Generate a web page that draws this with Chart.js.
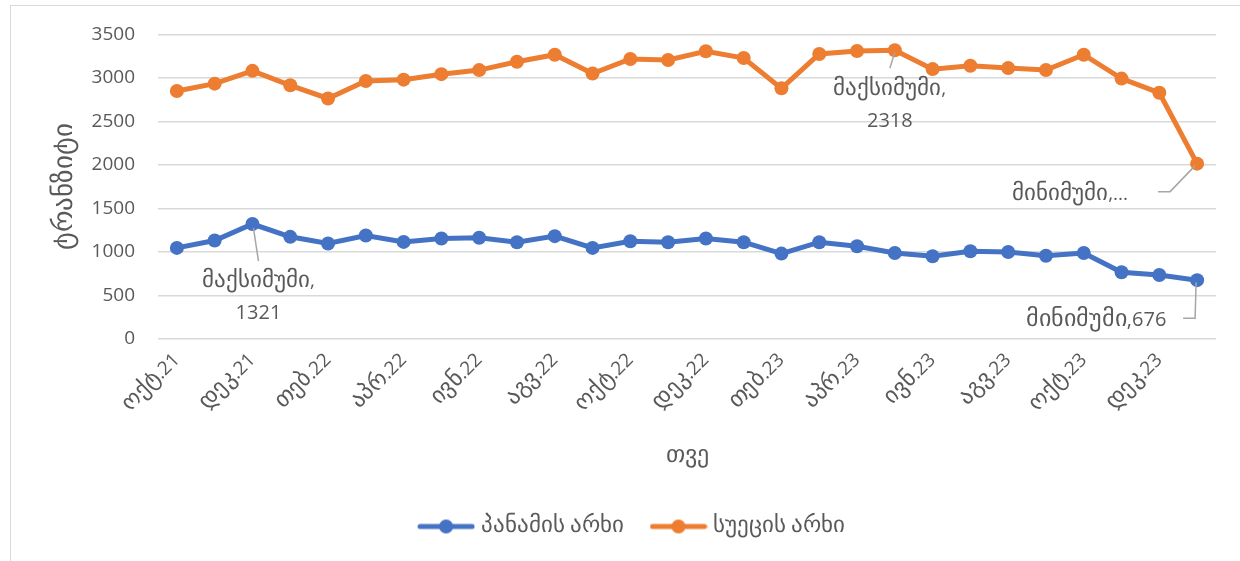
<!DOCTYPE html>
<html>
<head>
<meta charset="utf-8">
<script src="https://cdn.jsdelivr.net/npm/chart.js@4.4.1/dist/chart.umd.min.js"></script>
<style>
  /* Georgian glyphs a bit larger than the Latin digits, like in the original */
  @font-face {
    font-family: 'GeoText';
    src: local('DejaVu Sans');
    unicode-range: U+10A0-10FF, U+1C90-1CBF, U+2D00-2D2F;
    size-adjust: 122%;
  }
  html, body { margin: 0; padding: 0; background: #fff; overflow: hidden; }
  #wrap { position: relative; width: 1240px; height: 561px; }
  #frame { position: absolute; left: 10px; top: 5px; width: 1260px; height: 600px; border: 1px solid #d9d9d9; box-sizing: border-box; }
  canvas { position: absolute; left: 0; top: 0; }
</style>
</head>
<body>
<div id="wrap">
  <div id="frame"></div>
  <canvas id="transitChart" width="1240" height="561"></canvas>
</div>
<script>
const months = [
  'ოქტ.21', 'ნოე.21', 'დეკ.21', 'იან.22', 'თებ.22', 'მარ.22', 'აპრ.22', 'მაი.22',
  'ივნ.22', 'ივლ.22', 'აგვ.22', 'სექ.22', 'ოქტ.22', 'ნოე.22', 'დეკ.22', 'იან.23',
  'თებ.23', 'მარ.23', 'აპრ.23', 'მაი.23', 'ივნ.23', 'ივლ.23', 'აგვ.23', 'სექ.23',
  'ოქტ.23', 'ნოე.23', 'დეკ.23', 'იან.24'
];
const panamaCanal = [
  1047, 1132, 1321, 1174, 1097, 1190, 1116, 1155, 1163, 1112, 1182, 1047, 1124, 1112,
  1155, 1112, 981, 1112, 1066, 988, 950, 1008, 1000, 957, 988, 767, 736, 676
];
const suezCanal = [
  2849, 2934, 3081, 2915, 2764, 2965, 2980, 3043, 3090, 3186, 3267, 3050, 3217, 3206,
  3306, 3229, 2880, 3275, 3310, 3318, 3101, 3140, 3113, 3090, 3267, 2992, 2829, 2015
];
const seriesNames = ['პანამის არხი', 'სუეცის არხი'];
const yTicks = [0, 500, 1000, 1500, 2000, 2500, 3000, 3500];
// data label texts as they appear on the chart
const maxLabels = [['მაქსიმუმი,', '1321'], ['მაქსიმუმი,', '2318']];
const minLabels = ['მინიმუმი,676', 'მინიმუმი,...'];

const textColor = '#595959';
const fontFamily = 'GeoText, "Open Sans", "DejaVu Sans", sans-serif';
const blue = '#4472C4';
const orange = '#ED7D31';

// legend marker: short line with a dot in the middle
function legendMarker(color) {
  const c = document.createElement('canvas');
  c.width = 58; c.height = 16;
  const g = c.getContext('2d');
  g.strokeStyle = color; g.lineWidth = 5; g.lineCap = 'round';
  g.beginPath(); g.moveTo(3, 8); g.lineTo(55, 8); g.stroke();
  g.fillStyle = color;
  g.beginPath(); g.arc(29, 8, 7, 0, Math.PI * 2); g.fill();
  return c;
}

const argMax = arr => arr.indexOf(Math.max(...arr));
const argMin = arr => arr.indexOf(Math.min(...arr));

const extremeLabels = {
  id: 'extremeLabels',
  afterDatasetsDraw(chart) {
    const ctx = chart.ctx;
    const pt = (ds, i) => chart.getDatasetMeta(ds).data[i];
    ctx.save();
    ctx.font = '19px ' + fontFamily;
    ctx.fillStyle = textColor;
    ctx.strokeStyle = '#a6a6a6';
    ctx.lineWidth = 1.5;
    ctx.textAlign = 'center';
    ctx.textBaseline = 'middle';

    const line = pts => {
      ctx.beginPath();
      ctx.moveTo(pts[0][0], pts[0][1]);
      pts.slice(1).forEach(p => ctx.lineTo(p[0], p[1]));
      ctx.stroke();
    };

    // maximum, Panama
    let p = pt(0, argMax(panamaCanal));
    line([[p.x + 1, p.y + 4], [p.x + 6, p.y + 37]]);
    ctx.fillText(maxLabels[0][0], p.x + 6, p.y + 58);
    ctx.font = '20px ' + fontFamily;
    ctx.fillText(maxLabels[0][1], p.x + 6, p.y + 89);

    // maximum, Suez
    p = pt(1, argMax(suezCanal));
    ctx.font = '19px ' + fontFamily;
    line([[p.x, p.y + 2], [p.x - 5, p.y + 18]]);
    ctx.fillText(maxLabels[1][0], p.x - 5, p.y + 39);
    ctx.font = '20px ' + fontFamily;
    ctx.fillText(maxLabels[1][1], p.x - 5, p.y + 71);

    // minimum, Suez
    p = pt(1, argMin(suezCanal));
    ctx.font = '19px ' + fontFamily;
    line([[p.x - 2, p.y + 2], [p.x - 27, p.y + 28], [p.x - 39, p.y + 28]]);
    ctx.fillText(minLabels[1], p.x - 127, p.y + 31);

    // minimum, Panama
    p = pt(0, argMin(panamaCanal));
    line([[p.x - 1, p.y + 2], [p.x - 2, p.y + 38], [p.x - 14, p.y + 38]]);
    ctx.font = '20px ' + fontFamily;
    ctx.fillText(minLabels[0], p.x - 101, p.y + 40);
    ctx.restore();
  }
};

function drawChart() {
  const ctx = document.getElementById('transitChart').getContext('2d');

  return new Chart(ctx, {
    type: 'line',
    data: {
      labels: months,
      datasets: [{
        label: seriesNames[0],
        data: panamaCanal,
        borderColor: blue,
        backgroundColor: blue,
        borderWidth: 5,
        pointRadius: 7,
        pointBorderWidth: 0,
        pointBackgroundColor: blue,
        tension: 0
      }, {
        label: seriesNames[1],
        data: suezCanal,
        borderColor: orange,
        backgroundColor: orange,
        borderWidth: 5,
        pointRadius: 7,
        pointBorderWidth: 0,
        pointBackgroundColor: orange,
        tension: 0
      }]
    },
    options: {
      responsive: false,
      animation: false,
      layout: {
        padding: { left: 50, right: 24, top: 34, bottom: 15 }
      },
      plugins: {
        legend: {
          position: 'bottom',
          labels: {
            usePointStyle: true,
            pointStyleWidth: 50,
            padding: 30,
            color: textColor,
            font: { size: 19, family: fontFamily },
            generateLabels(chart) {
              return chart.data.datasets.map((ds, i) => ({
                text: ds.label,
                fillStyle: ds.borderColor,
                strokeStyle: ds.borderColor,
                pointStyle: legendMarker(ds.borderColor),
                fontColor: textColor,
                lineWidth: 0,
                datasetIndex: i
              }));
            }
          }
        },
        tooltip: { enabled: false }
      },
      scales: {
        x: {
          offset: true,
          afterFit(scale) { scale.height = 148; },
          grid: { display: false, drawTicks: false },
          border: { display: false },
          ticks: {
            autoSkip: false,
            maxRotation: 45,
            minRotation: 45,
            padding: 10,
            color: textColor,
            font: { size: 19, family: fontFamily },
            callback: (value, index) => index % 2 === 0 ? months[index] : ''
          },
          title: {
            display: true,
            text: 'თვე',
            color: textColor,
            font: { size: 20, family: fontFamily },
            padding: { top: 0, bottom: 19 }
          }
        },
        y: {
          min: 0,
          max: 3500,
          afterFit(scale) { scale.width = 108; },
          afterBuildTicks(scale) { scale.ticks = yTicks.map(v => ({ value: v })); },
          grid: { color: '#d9d9d9', lineWidth: 1.5, drawTicks: false },
          border: { display: false },
          ticks: {
            padding: 23,
            color: textColor,
            font: { size: 19, family: fontFamily },
            callback: value => String(value)
          },
          title: {
            display: true,
            text: 'ტრანზიტი',
            color: textColor,
            font: { size: 22, family: fontFamily },
            padding: { top: 3, bottom: 0 }
          }
        }
      }
    },
    plugins: [extremeLabels]
  });
}

document.fonts.load('20px GeoText', 'ტრანზიტი').then(drawChart, drawChart);
</script>
</body>
</html>
